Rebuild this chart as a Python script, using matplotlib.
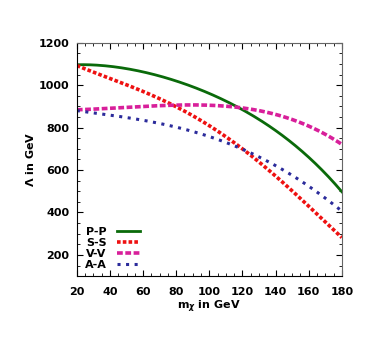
import matplotlib
matplotlib.use('Agg')
import numpy as np
import matplotlib.pyplot as plt
from matplotlib.ticker import MultipleLocator

# dark matter mass in GeV
mass = [20, 40, 60, 80, 100, 120, 140, 160, 180]

# Lambda in GeV for each operator type
lam_pp = [1097, 1088, 1066, 1016, 965, 882, 788, 660, 498]
lam_ss = [1092, 1035, 970, 893, 815, 700, 570, 430, 282]
lam_vv = [884, 892, 900, 906, 905, 893, 865, 805, 722]
lam_aa = [880, 860, 836, 800, 758, 700, 622, 522, 407]

labels = ['P-P', 'S-S', 'V-V', 'A-A']

plt.rcParams['font.family'] = ['Liberation Sans Narrow', 'DejaVu Sans']
plt.rcParams['font.weight'] = 'bold'

fig = plt.figure(figsize=(3.92, 3.54), dpi=100)
ax = fig.add_axes([0.196, 0.220, 0.676, 0.659])

# smooth the read-off points for drawing
xs = np.linspace(20, 180, 161)
def smooth(y):
    c = np.polyfit(mass, y, 4)
    return np.polyval(c, xs)

ax.plot(xs, smooth(lam_pp), color='#0a6a0a', lw=2.0, ls='-', label=labels[0])
ax.plot(xs, smooth(lam_ss), color='#ee1111', lw=2.6, ls=(0, (1, 0.6)), label=labels[1])
ax.plot(xs, smooth(lam_vv), color='#d81f9a', lw=2.6, ls=(0, (1.6, 0.7)), label=labels[2])
ax.plot(xs, smooth(lam_aa), color='#2b2b9b', lw=2.2, ls=(0, (1, 1.8)), label=labels[3])

ax.set_xlim(20, 180)
ax.set_ylim(100, 1200)
ax.xaxis.set_major_locator(MultipleLocator(20))
ax.xaxis.set_minor_locator(MultipleLocator(5))
ax.yaxis.set_major_locator(MultipleLocator(200))
ax.yaxis.set_minor_locator(MultipleLocator(50))
ax.tick_params(which='both', direction='in', top=True, right=True, labelsize=8)
ax.tick_params(axis='x', which='major', pad=8)
ax.tick_params(axis='y', which='major', pad=5.5)
ax.tick_params(which='major', length=4)
ax.tick_params(which='minor', length=2)
for s in ['top', 'right']:
    ax.spines[s].set_color('#666666')

ax.set_xlabel(r'm$_\chi$ in GeV', fontsize=8, fontweight='bold', labelpad=1)
ax.set_ylabel(r'$\Lambda$ in GeV', fontsize=8, fontweight='bold', labelpad=2)

ax.legend(loc='lower left', frameon=False, markerfirst=False, fontsize=8,
          handlelength=2.1, handletextpad=0.9, labelspacing=0.1,
          borderpad=0, borderaxespad=0, bbox_to_anchor=(0.03, 0.025))

plt.savefig('out.png', dpi=100)
